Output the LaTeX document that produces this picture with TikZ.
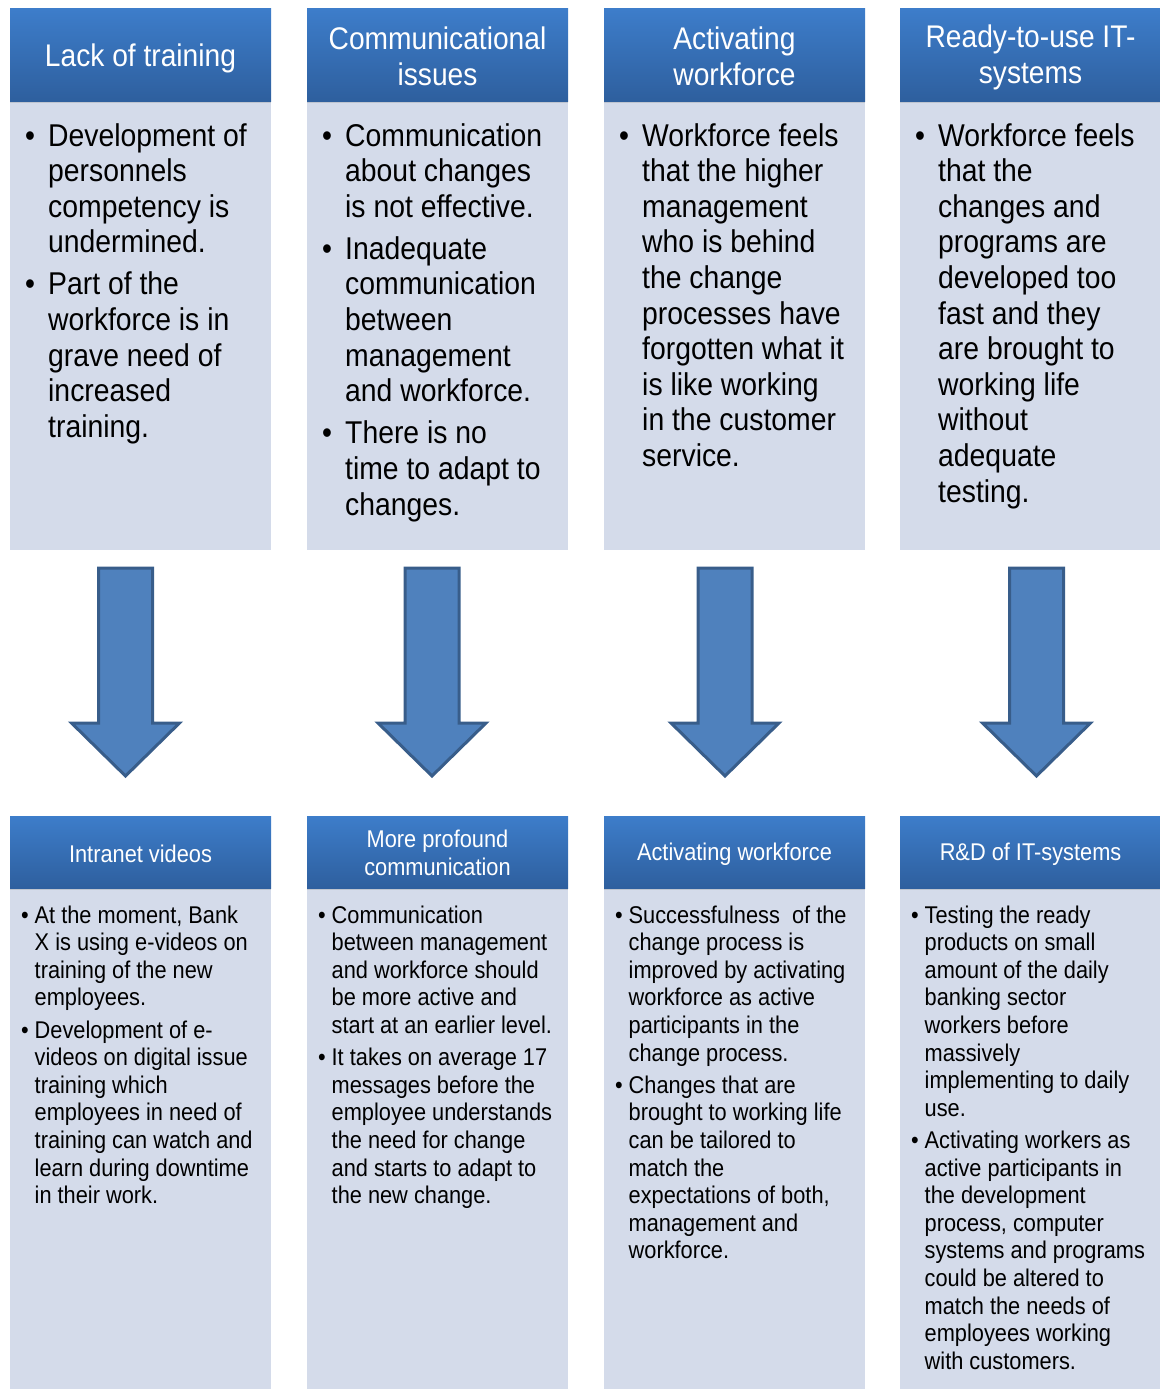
\documentclass[tikz,border=0pt]{standalone}
\usepackage{fontspec}
\setmainfont{Liberation Sans}[FakeStretch=0.9]
\usetikzlibrary{shadows}
\definecolor{hdtop}{RGB}{61,125,202}
\definecolor{hdbot}{RGB}{46,95,158}
\definecolor{bodyfill}{RGB}{212,219,234}
\definecolor{arrfill}{RGB}{79,129,189}
\definecolor{arrline}{RGB}{56,93,138}
\newcommand\LB{\newline}
\newcommand\bitem[2]{\par\hangindent=#1\hangafter=1\noindent\makebox[#1][l]{\textbullet}#2\par}
\newcommand\topitem[1]{\bitem{23pt}{#1}}
\newcommand\botitem[1]{\bitem{13.5pt}{#1}}
\newcommand\toptext[1]{\begin{minipage}[t]{255pt}\fontsize{31.5pt}{35.6pt}\selectfont\setlength\parskip{6.5pt}\setlength\parindent{0pt}#1\end{minipage}}
\newcommand\bottext[1]{\begin{minipage}[t]{255pt}\fontsize{24.2pt}{27.6pt}\selectfont\setlength\parskip{4.6pt}\setlength\parindent{0pt}#1\end{minipage}}
\tikzset{
  hdr/.style={draw=none, top color=hdtop, bottom color=hdbot, inner sep=0pt,
    drop shadow={opacity=0.25, shadow xshift=0pt, shadow yshift=-2pt}},
  hdrT/.style={hdr, minimum width=261pt, minimum height=92pt},
  hdrB/.style={hdr, minimum width=261pt, minimum height=72pt},
  hdtxtT/.style={text=white, align=center, inner sep=0pt, font=\fontsize{31.3pt}{36pt}\selectfont},
  hdtxtB/.style={text=white, align=center, inner sep=0pt, font=\fontsize{24.2pt}{28pt}\selectfont},
  bodyT/.style={fill=bodyfill, draw=none, minimum width=261pt, minimum height=449pt, inner sep=0pt},
  bodyB/.style={fill=bodyfill, draw=none, minimum width=261pt, minimum height=501pt, inner sep=0pt},
  txt/.style={anchor=base west, inner sep=0pt, text=black},
  arrowst/.style={draw=arrline, fill=arrfill, line width=3pt, line join=miter},
  bigarrow/.pic={\path[arrowst] (-27,0) -- (-27,155) -- (-54,155) -- (0,208) -- (54,155) -- (27,155) -- (27,0) -- cycle;}
}
\begin{document}
\begin{tikzpicture}[x=1pt,y=-1pt]
\useasboundingbox (0,0) rectangle (1159,1389);
% top bodies
\node[bodyT] (b1) at (140.5,325.5) {};
\node[bodyT] (b2) at (437.5,325.5) {};
\node[bodyT] (b3) at (734.5,325.5) {};
\node[bodyT] (b4) at (1030.5,325.5) {};
% top headers
\node[hdrT] (h1) at (140.5,55) {};
\node[hdrT] (h2) at (437.5,55) {};
\node[hdrT] (h3) at (734.5,55) {};
\node[hdrT] (h4) at (1030.5,55) {};
\node[hdtxtT] (h1t) at ([yshift=-3pt]h1.center) {Lack of training};
\node[hdtxtT] (h2t) at ([yshift=-1pt]h2.center) {Communicational\\issues};
\node[hdtxtT] (h3t) at ([yshift=-1pt]h3.center) {Activating\\workforce};
\node[hdtxtT] (h4t) at ([yshift=-2.5pt]h4.center) {Ready-to-use IT-\\systems};
% top texts
\node[txt] (t1) at (25,146) {\toptext{%
\topitem{Development of\LB personnels\LB competency is\LB undermined.}
\topitem{Part of the\LB workforce is in\LB grave need of\LB increased\LB training.}}};
\node[txt] (t2) at (322,146) {\toptext{%
\topitem{Communication\LB about changes\LB is not effective.}
\topitem{Inadequate\LB communication\LB between\LB management\LB and workforce.}
\topitem{There is no\LB time to adapt to\LB changes.}}};
\node[txt] (t3) at (619,146) {\toptext{%
\topitem{Workforce feels\LB that the higher\LB management\LB who is behind\LB the change\LB processes have\LB forgotten what it\LB is like working\LB in the customer\LB service.}}};
\node[txt] (t4) at (915,146) {\toptext{%
\topitem{Workforce feels\LB that the\LB changes and\LB programs are\LB developed too\LB fast and they\LB are brought to\LB working life\LB without\LB adequate\LB testing.}}};
% arrows
\pic at (125.5,568) {bigarrow};
\pic at (432,568) {bigarrow};
\pic at (725,568) {bigarrow};
\pic at (1036.5,568) {bigarrow};
% bottom bodies
\node[bodyB] (c1) at (140.5,1138.5) {};
\node[bodyB] (c2) at (437.5,1138.5) {};
\node[bodyB] (c3) at (734.5,1138.5) {};
\node[bodyB] (c4) at (1030.5,1138.5) {};
% bottom headers
\node[hdrB] (g1) at (140.5,852) {};
\node[hdrB] (g2) at (437.5,852) {};
\node[hdrB] (g3) at (734.5,852) {};
\node[hdrB] (g4) at (1030.5,852) {};
\node[hdtxtB] (g1t) at ([yshift=-1.5pt]g1.center) {Intranet videos};
\node[hdtxtB] (g2t) at ([yshift=-1pt]g2.center) {More profound\\communication};
\node[hdtxtB] (g3t) at ([yshift=-2.5pt]g3.center) {Activating workforce};
\node[hdtxtB] (g4t) at ([yshift=-2.5pt]g4.center) {R\&D of IT-systems};
% bottom texts
\node[txt] (u1) at (21,923) {\bottext{%
\botitem{At the moment, Bank\LB X is using e-videos on\LB training of the new\LB employees.}
\botitem{Development of e-\LB videos on digital issue\LB training which\LB employees in need of\LB training can watch and\LB learn during downtime\LB in their work.}}};
\node[txt] (u2) at (318,923) {\bottext{%
\botitem{Communication\LB between management\LB and workforce should\LB be more active and\LB start at an earlier level.}
\botitem{It takes on average 17\LB messages before the\LB employee understands\LB the need for change\LB and starts to adapt to\LB the new change.}}};
\node[txt] (u3) at (615,923) {\bottext{%
\botitem{Successfulness\ \ of the\LB change process is\LB improved by activating\LB workforce as active\LB participants in the\LB change process.}
\botitem{Changes that are\LB brought to working life\LB can be tailored to\LB match the\LB expectations of both,\LB management and\LB workforce.}}};
\node[txt] (u4) at (911,923) {\bottext{%
\botitem{Testing the ready\LB products on small\LB amount of the daily\LB banking sector\LB workers before\LB massively\LB implementing to daily\LB use.}
\botitem{Activating workers as\LB active participants in\LB the development\LB process, computer\LB systems and programs\LB could be altered to\LB match the needs of\LB employees working\LB with customers.}}};
\end{tikzpicture}
\end{document}
